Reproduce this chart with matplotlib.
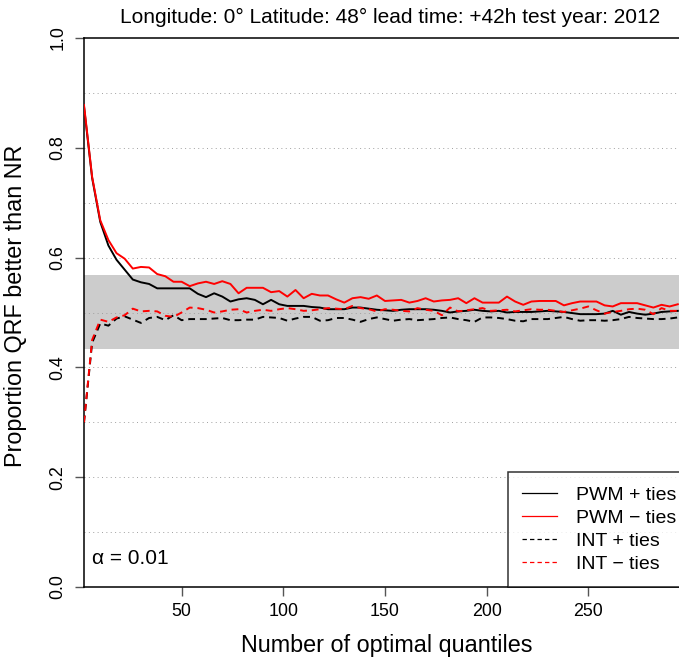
import numpy as np
import matplotlib.pyplot as plt

plt.rcParams['font.family'] = ['Liberation Sans', 'DejaVu Sans']

# number of optimal quantiles (every 4th value)
n_quantiles = np.arange(2, 298, 4)

# PWM + ties (black solid)
pwm_ties = [0.875, 0.745, 0.665, 0.622, 0.596, 0.578, 0.560, 0.555, 0.552, 0.544,
            0.544, 0.544, 0.544, 0.544, 0.534, 0.528, 0.535, 0.529, 0.520, 0.524,
            0.526, 0.523, 0.515, 0.523, 0.515, 0.512, 0.512, 0.512, 0.510, 0.509,
            0.506, 0.506, 0.506, 0.509, 0.509, 0.507, 0.505, 0.504, 0.503, 0.505,
            0.506, 0.506, 0.506, 0.505, 0.503, 0.500, 0.502, 0.503, 0.505, 0.503,
            0.502, 0.503, 0.500, 0.501, 0.501, 0.501, 0.502, 0.503, 0.502, 0.501,
            0.499, 0.497, 0.497, 0.497, 0.498, 0.503, 0.496, 0.501, 0.498, 0.496,
            0.498, 0.501, 0.502, 0.503]

# PWM - ties (red solid)
pwm_noties = [0.878, 0.747, 0.668, 0.632, 0.608, 0.598, 0.580, 0.583, 0.582, 0.570,
              0.566, 0.556, 0.556, 0.548, 0.553, 0.556, 0.552, 0.557, 0.552, 0.535,
              0.545, 0.545, 0.545, 0.537, 0.539, 0.529, 0.541, 0.526, 0.534, 0.531,
              0.531, 0.524, 0.518, 0.526, 0.528, 0.525, 0.531, 0.521, 0.522, 0.523,
              0.518, 0.521, 0.526, 0.520, 0.522, 0.523, 0.526, 0.517, 0.526, 0.518,
              0.518, 0.518, 0.529, 0.520, 0.514, 0.520, 0.521, 0.521, 0.521, 0.513,
              0.517, 0.520, 0.520, 0.520, 0.513, 0.511, 0.517, 0.517, 0.517, 0.513,
              0.509, 0.514, 0.511, 0.515]

# INT + ties (black dashed)
int_ties = [0.300, 0.445, 0.480, 0.476, 0.489, 0.493, 0.487, 0.481, 0.490, 0.492,
            0.486, 0.495, 0.486, 0.488, 0.488, 0.488, 0.489, 0.490, 0.486, 0.486,
            0.487, 0.487, 0.492, 0.491, 0.490, 0.485, 0.489, 0.492, 0.492, 0.485,
            0.486, 0.490, 0.490, 0.487, 0.483, 0.488, 0.491, 0.488, 0.485, 0.487,
            0.488, 0.486, 0.487, 0.488, 0.490, 0.491, 0.488, 0.486, 0.483, 0.491,
            0.491, 0.490, 0.488, 0.485, 0.484, 0.488, 0.488, 0.488, 0.490, 0.492,
            0.488, 0.485, 0.486, 0.486, 0.485, 0.486, 0.488, 0.492, 0.490, 0.489,
            0.488, 0.488, 0.489, 0.491]

# INT - ties (red dashed)
int_noties = [0.300, 0.450, 0.487, 0.483, 0.491, 0.495, 0.507, 0.502, 0.503, 0.502,
              0.494, 0.492, 0.500, 0.509, 0.508, 0.505, 0.500, 0.502, 0.505, 0.506,
              0.500, 0.503, 0.505, 0.503, 0.506, 0.508, 0.506, 0.503, 0.504, 0.506,
              0.508, 0.507, 0.506, 0.512, 0.508, 0.506, 0.502, 0.506, 0.505, 0.503,
              0.502, 0.508, 0.505, 0.503, 0.495, 0.509, 0.502, 0.504, 0.506, 0.508,
              0.503, 0.504, 0.505, 0.502, 0.504, 0.506, 0.505, 0.505, 0.503, 0.501,
              0.504, 0.507, 0.511, 0.504, 0.498, 0.501, 0.503, 0.506, 0.507, 0.505,
              0.497, 0.508, 0.503, 0.503]

# acceptance band for alpha = 0.01
band_low, band_high = 0.433, 0.569

legend_labels = ["PWM + ties", "PWM \u2212 ties", "INT + ties", "INT \u2212 ties"]
title = "Longitude: 0\u00b0 Latitude: 48\u00b0 lead time: +42h test year: 2012"

W, H = 679, 661
fig = plt.figure(figsize=(W / 100, H / 100), dpi=100)
# axes run past the right edge of the picture (the original is cropped there)
ax = fig.add_axes([84 / W, (H - 587) / H, 606 / W, 549 / H])

ax.axhspan(band_low, band_high, color="#cccccc", lw=0, zorder=1)
for g in np.arange(0.1, 1.0, 0.1):
    ax.axhline(g, color="#a0a0a0", lw=0.7, ls=(0, (1, 3.5)), zorder=1.5)

dash = (3.5, 2.5)
ax.plot(n_quantiles, pwm_ties, color="black", lw=1.4, zorder=3, label=legend_labels[0])
ax.plot(n_quantiles, pwm_noties, color="red", lw=1.4, zorder=3, label=legend_labels[1])
ax.plot(n_quantiles, int_ties, color="black", lw=1.4, dashes=dash, zorder=3,
        label=legend_labels[2])
ax.plot(n_quantiles, int_noties, color="red", lw=1.4, dashes=dash, zorder=3,
        label=legend_labels[3])

ax.set_xlim(2, 300)
ax.set_ylim(0, 1)
ax.set_xticks([50, 100, 150, 200, 250])
ax.set_yticks([0.0, 0.2, 0.4, 0.6, 0.8, 1.0])
ax.set_yticklabels(["0.0", "0.2", "0.4", "0.6", "0.8", "1.0"])
ax.tick_params(axis="both", length=6.5, width=1, color="#555555", labelsize=12.9)
ax.tick_params(axis="x", pad=5)
ax.tick_params(axis="y", pad=6, labelrotation=90)
for lab in ax.get_yticklabels():
    lab.set_va("center")

for s in ["left", "bottom", "top"]:
    ax.spines[s].set_linewidth(1.1)
ax.spines["right"].set_visible(False)

ax.set_xlabel("Number of optimal quantiles", fontsize=16.8, labelpad=10)
ax.set_ylabel("Proportion QRF better than NR", fontsize=16.8)
ax.yaxis.set_label_coords(-0.094, 0.513)

fig.text(390 / W, 1 - 17 / H, title, fontsize=15, ha="center", va="center")

ax.text(6, 0.042, "\u03b1 = 0.01", fontsize=15, ha="left", va="baseline")

leg = ax.legend(loc="lower right", bbox_to_anchor=(1, 0), fontsize=14,
                frameon=True, fancybox=False, edgecolor="black",
                borderaxespad=0, handlelength=1.8, handletextpad=0.98,
                labelspacing=0.28, borderpad=0.72)
leg.get_frame().set_linewidth(1.1)
leg.set_zorder(5)
for line in leg.get_lines():
    line.set_linewidth(0.9)

fig.savefig("out.png", dpi=100)
